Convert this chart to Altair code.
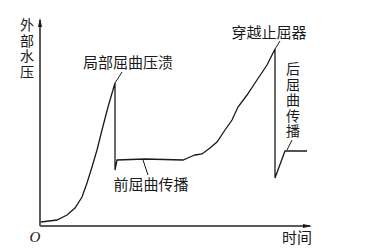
import altair as alt
import pandas as pd

# Pressure history (time, external pressure) in arbitrary units
t_rise = [1, 17, 27, 35, 42, 47, 52, 57, 62, 68, 75]
p_rise = [3, 5, 10, 17, 28, 42, 58, 75, 95, 118, 142]

t_front = [75, 77, 105, 143, 150, 155, 162, 170, 177, 185, 192, 198, 207, 217, 227, 235]
p_front = [55, 65, 66, 65, 68, 70, 71, 77, 83, 95, 105, 118, 130, 145, 160, 176]

t_back = [235, 245, 267]
p_back = [47, 74, 74]

T_MAX, P_MAX = 272, 207
FONT = "Noto Sans CJK SC"
INK = "#1a1a1a"

curve = pd.DataFrame({
    "t": t_rise + t_front + t_back,
    "p": p_rise + p_front + p_back,
})
curve["order"] = range(len(curve))

xs = alt.Scale(domain=[0, T_MAX])
ys = alt.Scale(domain=[0, P_MAX])
X = lambda f: alt.X(f, type="quantitative", scale=xs, axis=None)
Y = lambda f: alt.Y(f, type="quantitative", scale=ys, axis=None)

line = alt.Chart(curve).mark_line(color=INK, strokeWidth=1.3).encode(
    x=X("t"), y=Y("p"), order="order:Q"
)

# Axis lines with arrowheads
axes = pd.DataFrame({"t": [0, 0], "p": [-1, -1], "t2": [0, T_MAX - 2], "p2": [P_MAX - 2, -1]})
axis_lines = alt.Chart(axes).mark_rule(color="#5a5a5a", strokeWidth=2).encode(
    x=X("t"), y=Y("p"), x2="t2:Q", y2="p2:Q"
)
up = alt.Chart(pd.DataFrame({"t": [0], "p": [P_MAX]})).mark_point(
    shape="M0,0L-0.4,1.8L0.4,1.8Z", size=100, filled=True, color=INK, opacity=1
).encode(x=X("t"), y=Y("p"))
right = alt.Chart(pd.DataFrame({"t": [T_MAX], "p": [-1]})).mark_point(
    shape="M0,0L-1.8,-0.4L-1.8,0.4Z", size=100, filled=True, color=INK, opacity=1
).encode(x=X("t"), y=Y("p"))

# Leader lines from the curve to the labels
leaders = pd.DataFrame({
    "t": [75, 103, 235, 247],
    "p": [142, 65, 176, 75],
    "t2": [82, 108, 240, 252],
    "p2": [153, 50, 184, 85],
})
leader_rules = alt.Chart(leaders).mark_rule(color=INK, strokeWidth=1).encode(
    x=X("t"), y=Y("p"), x2="t2:Q", y2="p2:Q"
)

# Horizontal labels
labels = pd.DataFrame({
    "t": [88, 111, 229, 257],
    "p": [162, 40, 192, -13],
    "text": ["局部屈曲压溃", "前屈曲传播", "穿越止屈器", "时间"],
})
label_text = alt.Chart(labels).mark_text(
    font=FONT, fontSize=15, color=INK, align="center", baseline="middle"
).encode(x=X("t"), y=Y("p"), text="text:N")

# Vertically stacked labels, one character per row
y_title = list("外部水压")
y_title_p = [199, 183.5, 168, 152.5]
post_label = list("后屈曲传播")
post_label_p = [155, 139.5, 124, 108.5, 93]

stacked = pd.DataFrame({
    "t": [-13] * len(y_title) + [253] * len(post_label),
    "p": y_title_p + post_label_p,
    "text": y_title + post_label,
})
stacked_text = alt.Chart(stacked).mark_text(
    font=FONT, fontSize=14, color=INK, align="center", baseline="middle"
).encode(x=X("t"), y=Y("p"), text="text:N")

origin = alt.Chart(pd.DataFrame({"t": [-5], "p": [-12], "text": ["O"]})).mark_text(
    font="Liberation Serif", fontStyle="italic", fontSize=15, color=INK,
    align="center", baseline="middle"
).encode(x=X("t"), y=Y("p"), text="text:N")

chart = alt.layer(
    axis_lines, up, right, line, leader_rules, label_text, stacked_text, origin
).properties(
    width=T_MAX, height=P_MAX,
    padding={"left": 40, "top": 18, "right": 56, "bottom": 25},
    autosize=alt.AutoSizeParams(type="none"),
    background="white",
).configure_view(strokeWidth=0)

chart.save("out.html", embed_options={"renderer": "svg", "actions": False})
